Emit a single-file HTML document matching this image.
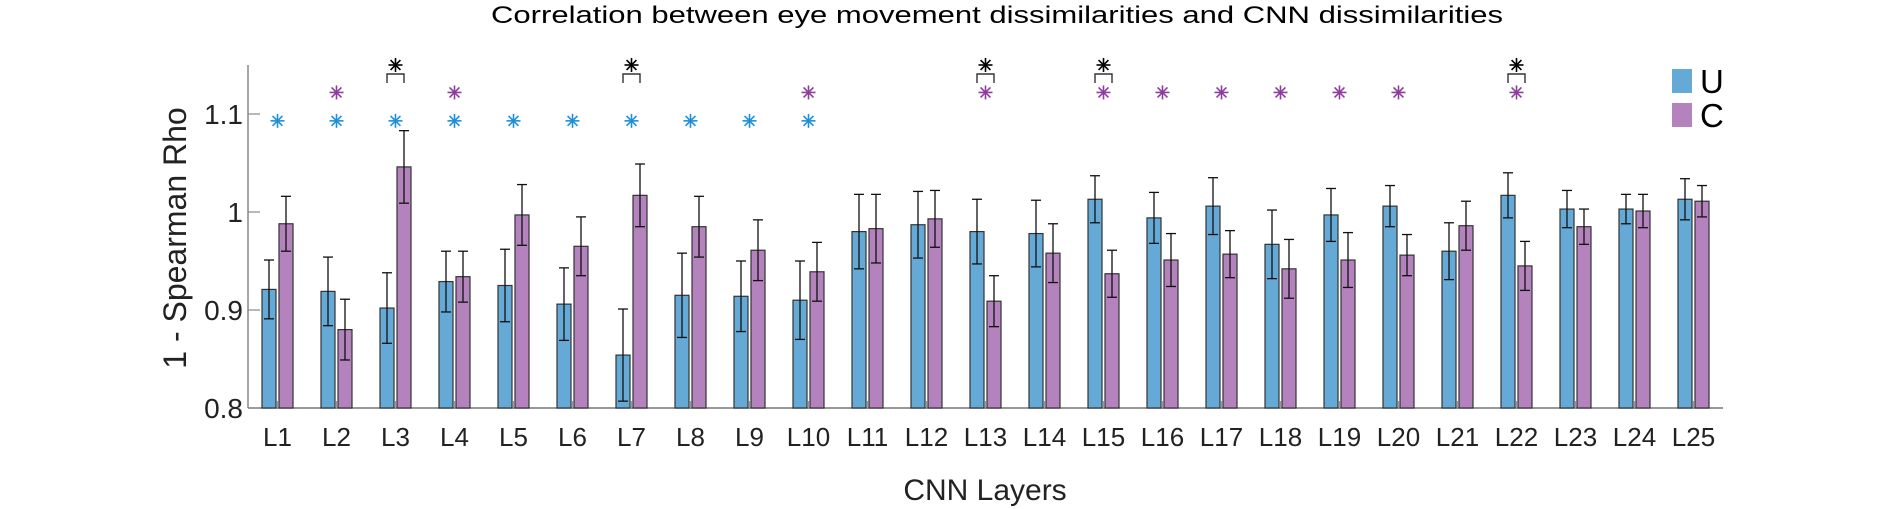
<!DOCTYPE html>
<html><head><meta charset="utf-8"><style>
html,body{margin:0;padding:0;background:#fff;}
svg{display:block;font-family:"Liberation Sans",Arial,sans-serif;}
</style></head><body>
<svg id="chart" width="1904" height="509" viewBox="0 0 1904 509" xmlns="http://www.w3.org/2000/svg">
<text x="491" y="23" font-size="24" textLength="1012" lengthAdjust="spacingAndGlyphs" fill="#000">Correlation between eye movement dissimilarities and CNN dissimilarities</text>
<g id="plot"></g>
<text transform="translate(186,238) rotate(-90)" text-anchor="middle" font-size="32" fill="#222">1 - Spearman Rho</text>
<text x="985" y="500" text-anchor="middle" font-size="30" fill="#222">CNN Layers</text>
<g>
<rect x="1672" y="69" width="20" height="24" fill="#65aad7"/>
<text x="1700" y="93" font-size="33" fill="#000">U</text>
<rect x="1672" y="103" width="20" height="24" fill="#b482bc"/>
<text x="1700" y="127" font-size="33" fill="#000">C</text>
</g>
</svg>
<script>
const categories = ["L1","L2","L3","L4","L5","L6","L7","L8","L9","L10","L11","L12","L13","L14","L15","L16","L17","L18","L19","L20","L21","L22","L23","L24","L25"];
const valuesU = [0.921,0.919,0.902,0.929,0.925,0.906,0.854,0.915,0.914,0.910,0.980,0.987,0.980,0.978,1.013,0.994,1.006,0.967,0.997,1.006,0.960,1.017,1.003,1.003,1.013];
const errU = [0.030,0.035,0.036,0.031,0.037,0.037,0.047,0.043,0.036,0.040,0.038,0.034,0.033,0.034,0.024,0.026,0.029,0.035,0.027,0.021,0.029,0.023,0.019,0.015,0.021];
const valuesC = [0.988,0.880,1.046,0.934,0.997,0.965,1.017,0.985,0.961,0.939,0.983,0.993,0.909,0.958,0.937,0.951,0.957,0.942,0.951,0.956,0.986,0.945,0.985,1.001,1.011];
const errC = [0.028,0.031,0.037,0.026,0.031,0.030,0.032,0.031,0.031,0.030,0.035,0.029,0.026,0.030,0.024,0.027,0.024,0.030,0.028,0.021,0.025,0.025,0.018,0.017,0.016];
const sigU = [1,1,1,1,1,1,1,1,1,1,0,0,0,0,0,0,0,0,0,0,0,0,0,0,0];
const sigC = [0,1,0,1,0,0,0,0,0,1,0,0,1,0,1,1,1,1,1,1,0,1,0,0,0];
const sigDiff = [0,0,1,0,0,0,1,0,0,0,0,0,1,0,1,0,0,0,0,0,0,1,0,0,0];
const yTicks = [0.8,0.9,1,1.1];
const yTickLabels = ["0.8","0.9","1","1.1"];

const NS="http://www.w3.org/2000/svg";
const plot=document.getElementById('plot');
const X0=248, X1=1723, Y0=408;
const xMin=0.5, xMax=25.5, yMin=0.8, yMax=1.15;
function xs(i){return X0+(i+1-xMin)/(xMax-xMin)*(X1-X0);}
function ys(v){return Y0-(v-yMin)/(0.1)*98;}
function mk(tag,attrs,parent){const e=document.createElementNS(NS,tag);for(const k in attrs)e.setAttribute(k,attrs[k]);(parent||plot).appendChild(e);return e;}

// axes
let ax=mk('line',{x1:X0,y1:ys(yMax),x2:X0,y2:Y0,stroke:'#888','stroke-width':1.5});


let bx=mk('line',{x1:X0,y1:Y0,x2:X1,y2:Y0,stroke:'#777','stroke-width':1.5});


yTicks.forEach((t,k)=>{
  const tk=mk('line',{x1:X0,y1:ys(t),x2:X0+12,y2:ys(t),stroke:'#888','stroke-width':1.2});
  
  
  const tx=mk('text',{x:X0-5,y:ys(t)+10,'text-anchor':'end','font-size':28,fill:'#222'});
  tx.textContent=yTickLabels[k];
  
  
});

function star(cx,cy,color,r){
  const g=mk('g',{stroke:color,'stroke-width':1.6});
  
  
  for(let a=0;a<180;a+=45){const rad=a*Math.PI/180;mk('line',{x1:cx-r*Math.cos(rad),y1:cy-r*Math.sin(rad),x2:cx+r*Math.cos(rad),y2:cy+r*Math.sin(rad)},g);}
}
function bar(cx,v,e,fill,name){
  const w=14;
  const r=mk('rect',{x:cx-w/2,y:ys(v),width:w,height:Y0-ys(v),fill:fill,stroke:'#333','stroke-width':1.2});
  
  
  const g=mk('g',{stroke:'#111','stroke-width':1.3});
  
  
  mk('line',{x1:cx,y1:ys(v+e),x2:cx,y2:ys(v-e)},g);
  mk('line',{x1:cx-5,y1:ys(v+e),x2:cx+5,y2:ys(v+e)},g);
  mk('line',{x1:cx-5,y1:ys(v-e),x2:cx+5,y2:ys(v-e)},g);
}
categories.forEach((c,i)=>{
  const cx=xs(i);
  bar(cx-8.5,valuesU[i],errU[i],'#65aad7','bar-u-'+c.toLowerCase());
  bar(cx+8.5,valuesC[i],errC[i],'#b482bc','bar-c-'+c.toLowerCase());
  const tk=mk('line',{x1:cx,y1:Y0-7,x2:cx,y2:Y0,stroke:'#999','stroke-width':1.2});
  
  
  const t=mk('text',{x:cx,y:446,'text-anchor':'middle','font-size':26,fill:'#222'});
  t.textContent=c;
  
  
  if(sigU[i]) star(cx,ys(1.093),'#1f8fd9',7);
  if(sigC[i]) star(cx,ys(1.122),'#8e3c9e',7);
  if(sigDiff[i]){
    star(cx,ys(1.15),'#000',7);
    const b=mk('path',{d:`M${cx-8.5},83 L${cx-8.5},74 L${cx+8.5},74 L${cx+8.5},83`,fill:'none',stroke:'#333','stroke-width':1.4});
    
    
  }
});
</script>
</body></html>
